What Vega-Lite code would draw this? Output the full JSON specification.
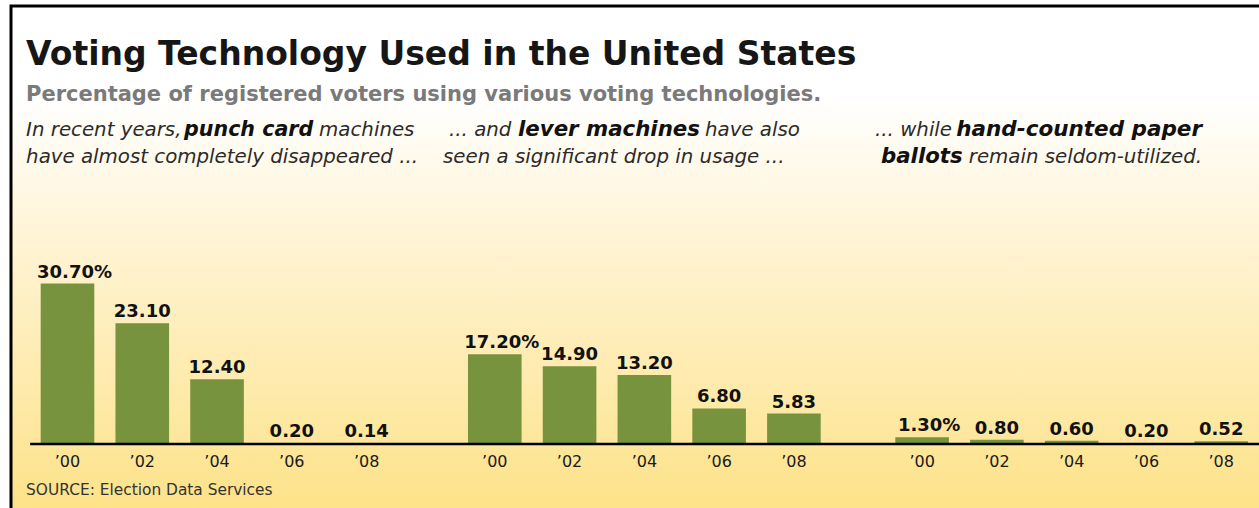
{
  "$schema": "https://vega.github.io/schema/vega-lite/v6.json",
  "width": 1252,
  "height": 506,
  "autosize": {"type": "none"},
  "padding": {"left": 11, "top": 6, "right": 0, "bottom": 0},
  "background": "white",
  "config": {
    "view": {
      "fill": {"gradient": "linear", "x1": 0, "y1": 0, "x2": 0, "y2": 1,
        "stops": [
          {"offset": 0, "color": "#ffffff"},
          {"offset": 0.18, "color": "#ffffff"},
          {"offset": 0.45, "color": "#fff4d6"},
          {"offset": 1, "color": "#fde288"}
        ]},
      "stroke": "#000000",
      "strokeWidth": 3
    },
    "font": "DejaVu Sans"
  },
  "title": {
    "text": "Voting Technology Used in the United States",
    "subtitle": "Percentage of registered voters using various voting technologies.",
    "anchor": "start",
    "frame": "group",
    "orient": "top",
    "offset": -99,
    "dx": 15,
    "font": "DejaVu Sans",
    "fontSize": 33,
    "fontWeight": "bold",
    "color": "#161616",
    "subtitleFont": "DejaVu Sans",
    "subtitleFontSize": 21,
    "subtitleFontWeight": "bold",
    "subtitleColor": "#7a7a7a",
    "subtitlePadding": 12
  },
  "data": {"values": [
    {"tech": "Punch card", "year": "’00", "value": 30.7, "label": "30.70%"},
    {"tech": "Punch card", "year": "’02", "value": 23.1, "label": "23.10"},
    {"tech": "Punch card", "year": "’04", "value": 12.4, "label": "12.40"},
    {"tech": "Punch card", "year": "’06", "value": 0.2, "label": "0.20"},
    {"tech": "Punch card", "year": "’08", "value": 0.14, "label": "0.14"},
    {"tech": "Lever machines", "year": "’00", "value": 17.2, "label": "17.20%"},
    {"tech": "Lever machines", "year": "’02", "value": 14.9, "label": "14.90"},
    {"tech": "Lever machines", "year": "’04", "value": 13.2, "label": "13.20"},
    {"tech": "Lever machines", "year": "’06", "value": 6.8, "label": "6.80"},
    {"tech": "Lever machines", "year": "’08", "value": 5.83, "label": "5.83"},
    {"tech": "Paper ballots", "year": "’00", "value": 1.3, "label": "1.30%"},
    {"tech": "Paper ballots", "year": "’02", "value": 0.8, "label": "0.80"},
    {"tech": "Paper ballots", "year": "’04", "value": 0.6, "label": "0.60"},
    {"tech": "Paper ballots", "year": "’06", "value": 0.2, "label": "0.20"},
    {"tech": "Paper ballots", "year": "’08", "value": 0.52, "label": "0.52"}
  ]},
  "layer": [
    {
      "mark": {"type": "bar", "color": "#77933e"},
      "encoding": {
        "x": {"field": "tech", "type": "nominal", "axis": null,
          "scale": {"domain": ["Punch card", "Lever machines", "Paper ballots"], "range": [19.1, 1247.6], "paddingInner": 0.125, "paddingOuter": 0}},
        "xOffset": {"field": "year", "type": "nominal",
          "scale": {"domain": ["’00", "’02", "’04", "’06", "’08"], "paddingInner": 0.283, "paddingOuter": 0.1415}},
        "y": {"field": "value", "type": "quantitative", "axis": null,
          "scale": {"domain": [0, 40], "range": [438, 229]}}
      }
    },
    {
      "data": {"values": [{}]},
      "mark": {"type": "rule", "color": "#000000", "strokeWidth": 2.5},
      "encoding": {
        "x": {"datum": "Punch card", "bandPosition": 0},
        "x2": {"value": {"expr": "width"}},
        "y": {"datum": 0}
      }
    },
    {
      "transform": [{"filter": "indexof(datum.label, '%') < 0"}],
      "mark": {"type": "text", "baseline": "alphabetic", "dy": -6, "fontSize": 18, "fontWeight": "bold", "color": "#111111"},
      "encoding": {
        "x": {"field": "tech", "type": "nominal"},
        "xOffset": {"field": "year", "type": "nominal"},
        "y": {"field": "value", "type": "quantitative"},
        "text": {"field": "label"}
      }
    },
    {
      "transform": [{"filter": "indexof(datum.label, '%') >= 0"}],
      "mark": {"type": "text", "baseline": "alphabetic", "dx": 7, "dy": -6, "fontSize": 18, "fontWeight": "bold", "color": "#111111"},
      "encoding": {
        "x": {"field": "tech", "type": "nominal"},
        "xOffset": {"field": "year", "type": "nominal"},
        "y": {"field": "value", "type": "quantitative"},
        "text": {"field": "label"}
      }
    },
    {
      "mark": {"type": "text", "baseline": "alphabetic", "dy": 23, "fontSize": 16, "color": "#1a1a1a"},
      "encoding": {
        "x": {"field": "tech", "type": "nominal"},
        "xOffset": {"field": "year", "type": "nominal"},
        "y": {"datum": 0},
        "text": {"field": "year"}
      }
    },
    {
      "data": {"values": [{"t": "SOURCE:  Election Data Services"}]},
      "mark": {"type": "text", "align": "left", "baseline": "alphabetic", "dx": -4, "dy": 51, "fontSize": 15.4, "color": "#333333"},
      "encoding": {"x": {"datum": "Punch card", "bandPosition": 0}, "y": {"datum": 0}, "text": {"field": "t"}}
    },
    {
      "data": {"values": [{"t": "In recent years,"}]},
      "mark": {"type": "text", "align": "left", "baseline": "alphabetic", "dx": -4, "fontSize": 19.8, "fontStyle": "italic", "color": "#2b2b2b"},
      "encoding": {"x": {"datum": "Punch card", "bandPosition": 0}, "y": {"datum": 58.95}, "text": {"field": "t"}}
    },
    {
      "data": {"values": [{"t": "punch card"}]},
      "mark": {"type": "text", "align": "left", "baseline": "alphabetic", "dx": 154, "fontSize": 20.6, "fontStyle": "italic", "fontWeight": "bold", "color": "#111111"},
      "encoding": {"x": {"datum": "Punch card", "bandPosition": 0}, "y": {"datum": 58.95}, "text": {"field": "t"}}
    },
    {
      "data": {"values": [{"t": "machines"}]},
      "mark": {"type": "text", "align": "left", "baseline": "alphabetic", "dx": 289, "fontSize": 19.8, "fontStyle": "italic", "color": "#2b2b2b"},
      "encoding": {"x": {"datum": "Punch card", "bandPosition": 0}, "y": {"datum": 58.95}, "text": {"field": "t"}}
    },
    {
      "data": {"values": [{"t": "have almost completely disappeared ..."}]},
      "mark": {"type": "text", "align": "left", "baseline": "alphabetic", "dx": -4, "dy": 27, "fontSize": 19.8, "fontStyle": "italic", "color": "#2b2b2b"},
      "encoding": {"x": {"datum": "Punch card", "bandPosition": 0}, "y": {"datum": 58.95}, "text": {"field": "t"}}
    },
    {
      "data": {"values": [{"t": "... and"}]},
      "mark": {"type": "text", "align": "left", "baseline": "alphabetic", "dx": -8.4, "fontSize": 19.8, "fontStyle": "italic", "color": "#2b2b2b"},
      "encoding": {"x": {"datum": "Lever machines", "bandPosition": 0}, "y": {"datum": 58.95}, "text": {"field": "t"}}
    },
    {
      "data": {"values": [{"t": "lever machines"}]},
      "mark": {"type": "text", "align": "left", "baseline": "alphabetic", "dx": 60.6, "fontSize": 21.3, "fontStyle": "italic", "fontWeight": "bold", "color": "#111111"},
      "encoding": {"x": {"datum": "Lever machines", "bandPosition": 0}, "y": {"datum": 58.95}, "text": {"field": "t"}}
    },
    {
      "data": {"values": [{"t": "have also"}]},
      "mark": {"type": "text", "align": "left", "baseline": "alphabetic", "dx": 247.6, "fontSize": 19.8, "fontStyle": "italic", "color": "#2b2b2b"},
      "encoding": {"x": {"datum": "Lever machines", "bandPosition": 0}, "y": {"datum": 58.95}, "text": {"field": "t"}}
    },
    {
      "data": {"values": [{"t": "seen a significant drop in usage ..."}]},
      "mark": {"type": "text", "align": "left", "baseline": "alphabetic", "dx": -14.4, "dy": 27, "fontSize": 19.8, "fontStyle": "italic", "color": "#2b2b2b"},
      "encoding": {"x": {"datum": "Lever machines", "bandPosition": 0}, "y": {"datum": 58.95}, "text": {"field": "t"}}
    },
    {
      "data": {"values": [{"t": "... while"}]},
      "mark": {"type": "text", "align": "left", "baseline": "alphabetic", "dx": -9.7, "fontSize": 19.8, "fontStyle": "italic", "color": "#2b2b2b"},
      "encoding": {"x": {"datum": "Paper ballots", "bandPosition": 0}, "y": {"datum": 58.95}, "text": {"field": "t"}}
    },
    {
      "data": {"values": [{"t": "hand-counted paper"}]},
      "mark": {"type": "text", "align": "right", "baseline": "alphabetic", "dx": 317.3, "fontSize": 21.5, "fontStyle": "italic", "fontWeight": "bold", "color": "#111111"},
      "encoding": {"x": {"datum": "Paper ballots", "bandPosition": 0}, "y": {"datum": 58.95}, "text": {"field": "t"}}
    },
    {
      "data": {"values": [{"t": "ballots"}]},
      "mark": {"type": "text", "align": "left", "baseline": "alphabetic", "dx": -3.7, "dy": 27, "fontSize": 21.3, "fontStyle": "italic", "fontWeight": "bold", "color": "#111111"},
      "encoding": {"x": {"datum": "Paper ballots", "bandPosition": 0}, "y": {"datum": 58.95}, "text": {"field": "t"}}
    },
    {
      "data": {"values": [{"t": "remain seldom-utilized."}]},
      "mark": {"type": "text", "align": "right", "baseline": "alphabetic", "dx": 317.3, "dy": 27, "fontSize": 19.8, "fontStyle": "italic", "color": "#2b2b2b"},
      "encoding": {"x": {"datum": "Paper ballots", "bandPosition": 0}, "y": {"datum": 58.95}, "text": {"field": "t"}}
    }
  ]
}
